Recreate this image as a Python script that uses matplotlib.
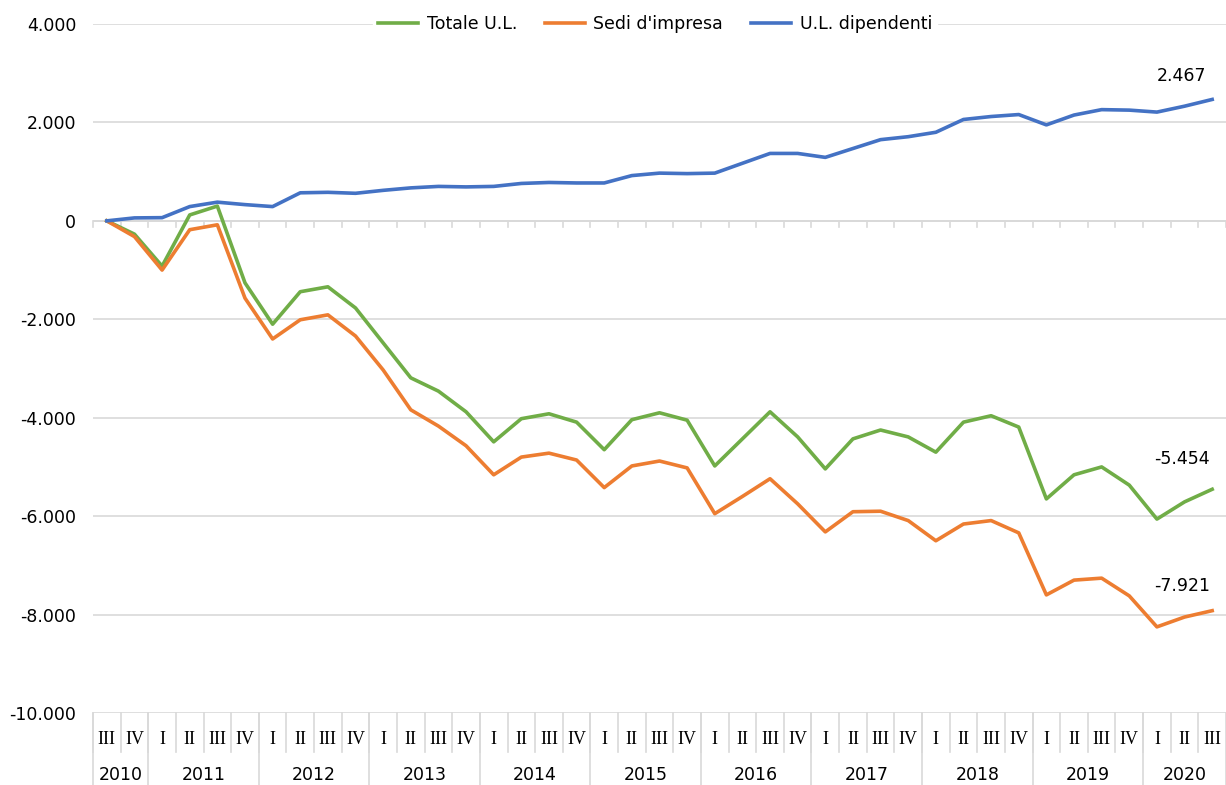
import matplotlib.pyplot as plt
from matplotlib.lines import Line2D
import matplotlib.transforms as mtransforms

plt.rcParams['font.family'] = ['DejaVu Sans']

# quarters from 2010 III to 2020 III
YEARS = ["2010", "2011", "2012", "2013", "2014", "2015", "2016", "2017", "2018", "2019", "2020"]
QUARTERS = (["III", "IV"] + ["I", "II", "III", "IV"] * 9 + ["I", "II", "III"])

totale = [0, -270, -920, 120, 300, -1260, -2100, -1440, -1340, -1770,
          -2480, -3190, -3460, -3880, -4490, -4020, -3920, -4090, -4650, -4040,
          -3900, -4050, -4980, -4430, -3880, -4390, -5040, -4430, -4250, -4390,
          -4700, -4090, -3960, -4190, -5650, -5160, -5000, -5370, -6060, -5710,
          -5454]
sedi = [0, -320, -1000, -180, -80, -1570, -2400, -2010, -1910, -2340,
        -3030, -3840, -4170, -4570, -5160, -4800, -4720, -4860, -5420, -4980,
        -4880, -5020, -5950, -5600, -5240, -5750, -6320, -5910, -5900, -6090,
        -6500, -6160, -6090, -6340, -7600, -7300, -7260, -7620, -8250, -8050,
        -7921]
dipendenti = [0, 60, 65, 290, 380, 330, 290, 570, 580, 560,
              620, 670, 700, 690, 700, 760, 780, 770, 770, 920,
              970, 960, 970, 1170, 1370, 1370, 1290, 1470, 1650, 1710,
              1800, 2060, 2120, 2160, 1950, 2150, 2260, 2250, 2210, 2330,
              2467]

GREEN = "#70AD47"
ORANGE = "#ED7D31"
BLUE = "#4472C4"
GRID = "#D9D9D9"


def fmt(v):
    return f"{v:,.0f}".replace(",", ".")


fig = plt.figure(figsize=(12.26, 7.85), dpi=100)
ax = fig.add_axes([93 / 1226, 1 - 713 / 785, 1 - 93 / 1226, (713 - 24) / 785])

x = list(range(len(QUARTERS)))
ax.plot(x, totale, color=GREEN, lw=2.6, label="Totale U.L.", solid_joinstyle="round")
ax.plot(x, sedi, color=ORANGE, lw=2.6, label="Sedi d'impresa", solid_joinstyle="round")
ax.plot(x, dipendenti, color=BLUE, lw=2.6, label="U.L. dipendenti", solid_joinstyle="round")

ax.set_xlim(-0.5, len(x) - 0.5)
ax.set_ylim(-10000, 4000)
yt = list(range(-10000, 4001, 2000))
ax.set_yticks(yt)
ax.set_yticklabels([fmt(v) for v in yt], fontsize=12.5, color="#000000")
ax.tick_params(axis="y", length=0, pad=12)
for v in yt:
    ax.axhline(v, color=GRID, lw=1.2, zorder=0)
ax.set_xticks([])
for s in ax.spines.values():
    s.set_visible(False)

# category axis line at zero with small ticks
ax.axhline(0, color=GRID, lw=1.4, zorder=1)
for b in [i - 0.5 for i in range(len(x) + 1)]:
    ax.plot([b, b], [0, -130], color=GRID, lw=1.2, zorder=1, clip_on=False)

# bottom category labels (quarters + years)
trans = mtransforms.blended_transform_factory(ax.transData, ax.transAxes)
q_bottom = -(752 - 713) / (713 - 24)
y_bottom = -(785 - 713) / (713 - 24)
for i, q in enumerate(QUARTERS):
    ax.text(i, -(740 - 713) / (713 - 24), q, transform=trans, ha="center", va="center",
            fontsize=13, family=["Liberation Serif"])
    ax.add_line(Line2D([i - 0.5, i - 0.5], [0, q_bottom], transform=trans,
                       color=GRID, lw=1.2, clip_on=False))

starts = [0]
for i in range(1, len(QUARTERS)):
    if QUARTERS[i] == "I":
        starts.append(i)
ends = starts[1:] + [len(QUARTERS)]
for yr, s, e in zip(YEARS, starts, ends):
    ax.text((s + e - 1) / 2, -(775 - 713) / (713 - 24), yr, transform=trans,
            ha="center", va="center", fontsize=12.5)
    ax.add_line(Line2D([s - 0.5, s - 0.5], [0, y_bottom], transform=trans,
                       color=GRID, lw=1.2, clip_on=False))
ax.add_line(Line2D([len(x) - 0.5, len(x) - 0.5], [0, y_bottom], transform=trans,
                   color=GRID, lw=1.2, clip_on=False))

# last value labels
last = len(x) - 1
for series, dy in [(dipendenti, 17), (totale, 22), (sedi, 18)]:
    ax.annotate(fmt(series[-1]), (last, series[-1]), xytext=(-22, dy),
                textcoords="offset points", ha="center", va="center", fontsize=12.5)

leg = fig.legend(loc="center", bbox_to_anchor=(655 / 1226, 1 - 24 / 785), ncol=3,
                 frameon=True, fontsize=12.5, handlelength=2.3, columnspacing=1.6,
                 handletextpad=0.5, borderpad=0.3)
leg.get_frame().set_facecolor("white")
leg.get_frame().set_edgecolor("white")
leg.get_frame().set_alpha(1)

fig.savefig("out.png", dpi=100)
